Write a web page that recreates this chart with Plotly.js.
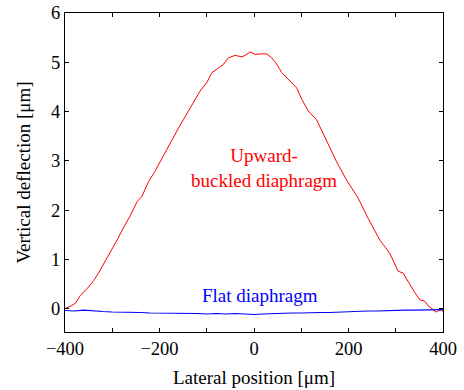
<!DOCTYPE html>
<html>
<head>
<meta charset="utf-8">
<script src="https://cdn.plot.ly/plotly-3.0.1.min.js"></script>
<style>html,body{margin:0;padding:0;background:#fff;}#chart{width:464px;height:390px;}</style>
</head>
<body>
<div id="chart"></div>
<script>
// Upward-buckled diaphragm profile (red)
const buckledX = [-400,-396.8,-388,-377.8,-367.3,-352,-339.2,-328,-318,-307,-297,-288,-279.2,-270,-261.7,-254,-247.5,-237,-230,-223,-210,-198.3,-184.2,-170.2,-160,-149.1,-138.6,-128,-113.8,-99.7,-89.1,-78.6,-64.6,-54.1,-40,-25.8,-18.9,-8.3,2.3,15,27,37.6,48.2,58.7,76.3,90.4,101,114.9,132.6,153.7,174.8,195.9,220.5,241.6,266.3,287.4,295,305,315.6,329.7,340,350.8,361.4,368,375.5,386,391,396.6,400];
const buckledY = [0.00,0.01,0.05,0.11,0.27,0.42,0.57,0.74,0.91,1.07,1.25,1.42,1.59,1.74,1.89,2.04,2.17,2.28,2.42,2.58,2.78,2.99,3.23,3.50,3.66,3.84,4.01,4.18,4.42,4.59,4.79,4.86,4.96,5.09,5.14,5.11,5.14,5.21,5.16,5.17,5.17,5.09,4.96,4.79,4.62,4.48,4.25,4.01,3.83,3.39,2.98,2.61,2.24,1.83,1.39,1.12,0.96,0.76,0.72,0.49,0.33,0.18,0.15,0.06,0.00,-0.07,-0.04,-0.03,-0.06];
// Flat diaphragm profile (blue)
const flatX = [-400,-380,-360,-340,-320,-300,-280,-260,-240,-220,-200,-180,-160,-140,-120,-100,-80,-60,-40,-20,0,20,40,60,80,100,120,140,160,180,200,220,240,260,280,300,320,340,360,380,400];
const flatY = [-0.04,-0.05,-0.03,-0.05,-0.06,-0.07,-0.07,-0.08,-0.08,-0.09,-0.09,-0.10,-0.09,-0.10,-0.10,-0.11,-0.10,-0.11,-0.10,-0.11,-0.12,-0.11,-0.10,-0.10,-0.09,-0.09,-0.08,-0.08,-0.08,-0.07,-0.06,-0.06,-0.05,-0.05,-0.04,-0.04,-0.03,-0.03,-0.03,-0.02,-0.02];
// Axis ticks
const xTickVals = [-400,-300,-200,-100,0,100,200,300,400];
const xTickText = ['\u2212400','','\u2212200','','0','','200','','400'];
const yTickVals = [0,1,2,3,4,5,6];
const yTickText = ['0','1','2','3','4','5','6'];

const font = 'Liberation Serif, Times New Roman, serif';
const traces = [
  {x: buckledX, y: buckledY, type: 'scatter', mode: 'lines', line: {color: '#ff0000', width: 1}, hoverinfo: 'skip'},
  {x: flatX, y: flatY, type: 'scatter', mode: 'lines', line: {color: '#0000ff', width: 1.1}, hoverinfo: 'skip'}
];
const axisCommon = {
  showgrid: false, zeroline: false, showline: true, linecolor: '#000', linewidth: 1,
  mirror: 'ticks', ticks: 'inside', ticklen: 4, tickcolor: '#000', tickwidth: 1,
  tickfont: {family: font, size: 18.5, color: '#000'}
};
const layout = {
  width: 464, height: 390,
  margin: {l: 64.5, r: 20.7, t: 13.3, b: 58.3},
  paper_bgcolor: '#fff', plot_bgcolor: '#fff',
  showlegend: false,
  xaxis: Object.assign({}, axisCommon, {
    range: [-400, 400], tickmode: 'array', tickvals: xTickVals, ticktext: xTickText,
    title: {text: 'Lateral position [\u03bcm]', font: {family: font, size: 19, color: '#000'}, standoff: 12}
  }),
  yaxis: Object.assign({}, axisCommon, {
    range: [-0.475, 6], tickmode: 'array', tickvals: yTickVals, ticktext: yTickText,
    title: {text: 'Vertical deflection [\u03bcm]', font: {family: font, size: 19, color: '#000'}, standoff: 15}
  }),
  annotations: [
    {x: 21, y: 2.85, xref: 'x', yref: 'y', showarrow: false, align: 'center',
     text: 'Upward-<br>buckled diaphragm', font: {family: font, size: 19, color: '#ff0000'}},
    {x: 13, y: 0.27, xref: 'x', yref: 'y', showarrow: false,
     text: 'Flat diaphragm', font: {family: font, size: 19, color: '#0000ff'}}
  ]
};
Plotly.newPlot('chart', traces, layout, {displayModeBar: false, staticPlot: true});
</script>
</body>
</html>
